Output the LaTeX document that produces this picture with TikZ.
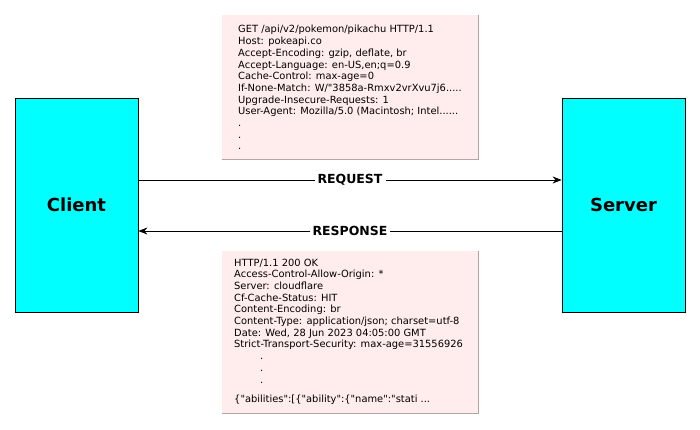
\documentclass[tikz,border=0pt]{standalone}
\usepackage{fontspec}
\setmainfont{DejaVu Sans}
\newfontfamily\msgfont{DejaVu Sans}[Ligatures=TeXOff]
\usetikzlibrary{arrows.meta}
\definecolor{boxpink}{HTML}{FFECEC}
\definecolor{boxedge}{HTML}{B4A4A4}
\definecolor{agent}{HTML}{00FFFF}
\tikzset{
  agentbox/.style={draw=black, line width=0.8pt, fill=agent, minimum width=123pt, minimum height=214pt, inner sep=0pt, font=\fontsize{18}{20}\selectfont\bfseries},
  msgbox/.style={fill=boxpink, draw=none, inner sep=0pt},
  msgtext/.style={anchor=base west, inner sep=0pt, font=\msgfont\fontsize{9.9}{11.7}\selectfont},
  arr/.style={line width=0.8pt, -{Stealth[length=9pt,width=7pt,inset=3pt]}},
  lbl/.style={fill=white, inner sep=3pt, font=\fontsize{12.5}{14}\selectfont\bfseries}
}
\begin{document}
\begin{tikzpicture}[x=1pt,y=-1pt]
\useasboundingbox (0,0) rectangle (700,430);
% agent boxes
\node[agentbox] (client) at (76.5,205) {Client};
\node[agentbox] (server) at (623.5,205) {Server};
% request box
\node[msgbox, minimum width=256pt, minimum height=144pt] (reqbox) at (350,87) {};
\draw[boxedge, line width=1.2pt] (reqbox.north east) -- (reqbox.south east) -- (reqbox.south west);
\node[msgtext] (reqtext) at (238,33) {\parbox[t]{240pt}{\raggedright
GET /api/v2/pokemon/pikachu HTTP/1.1\\
Host: pokeapi.co\\
Accept-Encoding: gzip, deflate, br\\
Accept-Language: en-US,en;q=0.9\\
Cache-Control: max-age=0\\
If-None-Match: W/"3858a-Rmxv2vrXvu7j6.....\\
Upgrade-Insecure-Requests: 1\\
User-Agent: Mozilla/5.0 (Macintosh; Intel......\\
.\\
.\\
.}};
% response box
\node[msgbox, minimum width=256pt, minimum height=162pt] (resbox) at (350,332) {};
\draw[boxedge, line width=1.2pt] (resbox.north east) -- (resbox.south east) -- (resbox.south west);
\node[msgtext] (restext) at (234,266) {\parbox[t]{240pt}{\raggedright
HTTP/1.1 200 OK\\
Access-Control-Allow-Origin: *\\
Server: cloudflare\\
Cf-Cache-Status: HIT\\
Content-Encoding: br\\
Content-Type: application/json; charset=utf-8\\
Date: Wed, 28 Jun 2023 04:05:00 GMT\\
Strict-Transport-Security: max-age=31556926\\
\hspace*{26pt}.\\
\hspace*{26pt}.\\
\hspace*{26pt}.\\[8pt]
\{"abilities":[\{"ability":\{"name":"stati ...}};
% connectors
\draw[arr] ([yshift=25pt]client.east) -- node[lbl] {REQUEST} ([yshift=25pt]server.west);
\draw[arr] ([yshift=-26pt]server.west) -- node[lbl] {RESPONSE} ([yshift=-26pt]client.east);
\end{tikzpicture}
\end{document}
